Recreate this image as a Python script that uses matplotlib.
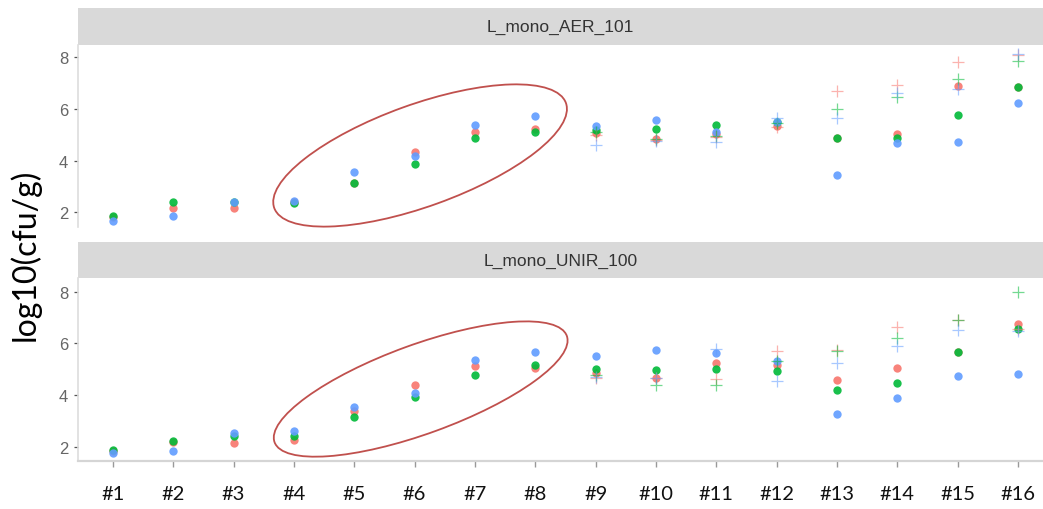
import numpy as np
import matplotlib
matplotlib.use("Agg")
import matplotlib.pyplot as plt
from matplotlib.patches import Ellipse
from matplotlib.transforms import ScaledTranslation

# ---------------------------------------------------------------------
# Datos (log10 cfu/g)
# ---------------------------------------------------------------------
muestras = ["#1", "#2", "#3", "#4", "#5", "#6", "#7", "#8",
            "#9", "#10", "#11", "#12", "#13", "#14", "#15", "#16"]
muestras_cruz = muestras[8:]   # las cruces solo aparecen de #9 a #16

paneles = ["L_mono_AER_101", "L_mono_UNIR_100"]

# panel L_mono_AER_101 - puntos
aer_rojo = [1.80, 2.15, 2.15, 2.39, 3.15, 4.32, 5.12, 5.23,
            5.07, 4.84, 5.03, 5.35, 4.86, 5.02, 6.90, 6.85]
aer_verde = [1.85, 2.41, 2.40, 2.35, 3.14, 3.86, 4.89, 5.12,
             5.20, 5.23, 5.39, 5.51, 4.86, 4.86, 5.77, 6.84]
aer_azul = [1.68, 1.85, 2.41, 2.45, 3.57, 4.19, 5.39, 5.72,
            5.35, 5.57, 5.10, 5.51, 3.45, 4.67, 4.74, 6.24]
# panel L_mono_AER_101 - cruces
aer_rojo_cruz = [5.00, 4.81, 4.90, 5.29, 6.71, 6.93, 7.81, 8.10]
aer_verde_cruz = [5.10, 4.85, 4.95, 5.45, 6.00, 6.48, 7.17, 7.85]
aer_azul_cruz = [4.61, 4.77, 4.74, 5.64, 5.64, 6.61, 6.78, 8.13]

# panel L_mono_UNIR_100 - puntos
unir_rojo = [1.85, 2.20, 2.15, 2.27, 3.40, 4.38, 5.13, 5.04,
             4.86, 4.65, 5.26, 5.15, 4.59, 5.05, 5.68, 6.77]
unir_verde = [1.90, 2.22, 2.41, 2.44, 3.17, 3.95, 4.79, 5.17,
              5.01, 4.98, 5.03, 4.94, 4.19, 4.46, 5.68, 6.55]
unir_azul = [1.77, 1.86, 2.54, 2.60, 3.54, 4.10, 5.36, 5.69,
             5.53, 5.73, 5.62, 5.31, 3.26, 3.89, 4.75, 4.81]
# panel L_mono_UNIR_100 - cruces
unir_rojo_cruz = [4.65, 4.65, 4.62, 5.72, 5.74, 6.63, 6.90, 6.55]
unir_verde_cruz = [4.80, 4.39, 4.38, 5.31, 5.70, 6.22, 6.90, 7.97]
unir_azul_cruz = [4.72, 4.65, 5.77, 4.54, 5.23, 5.90, 6.53, 6.47]

datos = {
    "L_mono_AER_101": ([aer_rojo, aer_verde, aer_azul],
                       [aer_rojo_cruz, aer_verde_cruz, aer_azul_cruz]),
    "L_mono_UNIR_100": ([unir_rojo, unir_verde, unir_azul],
                        [unir_rojo_cruz, unir_verde_cruz, unir_azul_cruz]),
}

colores = ["#F8766D", "#00BA38", "#619CFF"]   # paleta por defecto de ggplot
color_elipse = "#C0504D"

# ---------------------------------------------------------------------
# Figura
# ---------------------------------------------------------------------
W, H = 1043, 510
fig = plt.figure(figsize=(W / 100, H / 100), dpi=100)
fig.patch.set_facecolor("white")

# posiciones en pixeles: (arriba del strip, arriba del panel, abajo del panel)
cajas = [(9, 46, 228), (243, 279, 462)]
ylims = [(1.43, 8.48), (1.46, 8.53)]
# elipses: centro en datos, ancho y alto en pulgadas, angulo
centros_elipse = [((6.09, 4.20), 3.10, 1.02, 19.8), ((6.10, 4.24), 3.11, 0.89, 20.0)]

x = np.arange(1, len(muestras) + 1)
x_cruz = x[8:]

for i, nombre in enumerate(paneles):
    top_strip, top_panel, bot_panel = cajas[i]
    left = 78 / W

    # strip gris con el titulo del panel
    ax_s = fig.add_axes([left, (H - top_panel) / H, 1 - left, (top_panel - top_strip) / H])
    ax_s.set_facecolor("#D9D9D9")
    ax_s.set_xticks([])
    ax_s.set_yticks([])
    for sp in ax_s.spines.values():
        sp.set_visible(False)
    ax_s.text(0.5, 0.5, nombre, ha="center", va="center", fontsize=12.5,
              color="#333333", family="Liberation Sans", transform=ax_s.transAxes)

    ax = fig.add_axes([left, (H - bot_panel) / H, 1 - left, (bot_panel - top_panel) / H])
    puntos, cruces = datos[nombre]
    for serie, c in zip(puntos, colores):
        ax.plot(x, serie, "o", color=c, ms=6, mew=0, alpha=0.9, zorder=3)
    for serie, c in zip(cruces, colores):
        ax.plot(x_cruz, serie, "+", color=c, ms=8, mew=0.9, alpha=0.55, zorder=4)

    ax.set_xlim(0.42, 16.415)
    ax.set_ylim(*ylims[i])
    ax.set_yticks([2, 4, 6, 8])
    ax.tick_params(axis="y", length=3.2, width=0.9, color="#555555",
                   labelcolor="#666666", labelsize=12, pad=4)
    for t in ax.get_yticklabels():
        t.set_family("Liberation Sans")

    ax.spines["top"].set_visible(False)
    ax.spines["right"].set_visible(False)
    ax.spines["left"].set_color("#DDDDDD")
    ax.spines["left"].set_linewidth(1.2)
    if i == 1:
        ax.set_xticks(x)
        ax.set_xticklabels(muestras)
        ax.spines["bottom"].set_color("#D5D5D5")
        ax.spines["bottom"].set_linewidth(1.6)
        ax.tick_params(axis="x", length=4, width=1.0, color="#999999",
                       labelsize=14.5, labelcolor="#111111", pad=13)
        for t in ax.get_xticklabels():
            t.set_family("Lato")
    else:
        ax.spines["bottom"].set_visible(False)
        ax.set_xticks([])

    # elipse roja de anotacion alrededor de #4 - #8
    (cx, cy), ew, eh, ang = centros_elipse[i]
    trans = fig.dpi_scale_trans + ScaledTranslation(cx, cy, ax.transData)
    ax.add_patch(Ellipse((0, 0), ew, eh, angle=ang, transform=trans,
                         fill=False, edgecolor=color_elipse, lw=1.3, zorder=5,
                         clip_on=False))

fig.text(25 / W, 0.5, "log10(cfu/g)", rotation=90, ha="center", va="center",
         fontsize=23, family="Lato", color="#000000")

fig.savefig("out.png", dpi=100)
